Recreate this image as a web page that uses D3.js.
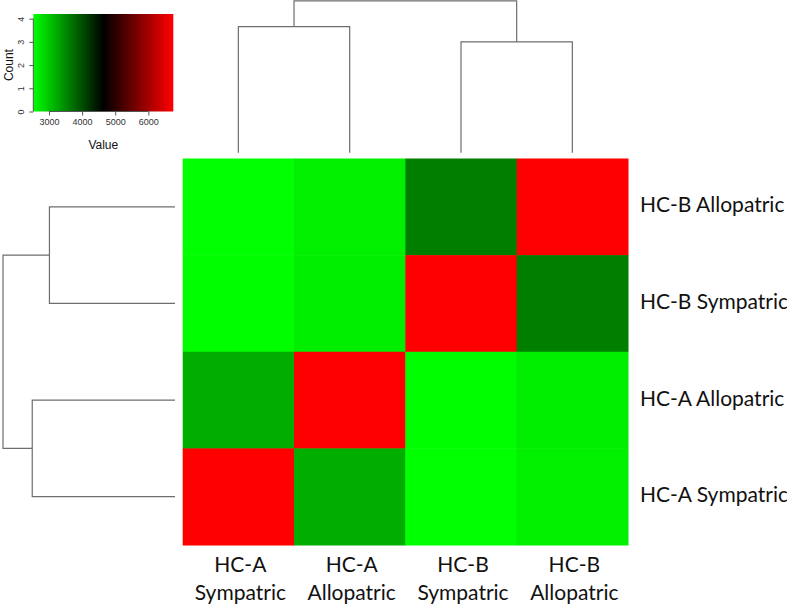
<!DOCTYPE html>
<html>
<head>
<meta charset="utf-8">
<script src="https://cdn.jsdelivr.net/npm/d3@7"></script>
<style>
  body { margin: 0; background: #fff; }
  svg { display: block; }
  .lbl { font-family: Lato, "Open Sans", sans-serif; font-size: 21px; fill: #111; }
  .key-tick { font-family: "Liberation Sans", Arial, sans-serif; font-size: 9px; fill: #333; }
  .key-title { font-family: "Liberation Sans", Arial, sans-serif; font-size: 12px; fill: #111; }
  .dendro { fill: none; stroke: #6e6e6e; stroke-width: 1.2; }
</style>
</head>
<body>
<svg id="chart" width="787" height="604"></svg>
<script>
// colunas (esq -> dir) e linhas (cima -> baixo)
const colLabels = ['HC-A Sympatric', 'HC-A Allopatric', 'HC-B Sympatric', 'HC-B Allopatric'];
const rowLabels = ['HC-B Allopatric', 'HC-B Sympatric', 'HC-A Allopatric', 'HC-A Sympatric'];

const values = [
  [2530, 2650, 3600, 6750],
  [2540, 2660, 6750, 3600],
  [3200, 6750, 2540, 2660],
  [6750, 3200, 2530, 2650],
];

// dendrograma: alturas das fusões (unidades arbitrárias)
const mergeA = 83;   // HC-A Sympatric + HC-A Allopatric
const mergeB = 73;   // HC-B Sympatric + HC-B Allopatric
const mergeRoot = 100;

// color key
const keyDomain = [2527, 4640, 6753];
const keyXTicks = [3000, 4000, 5000, 6000];
const keyYTicks = [0, 1, 2, 3, 4];

const svg = d3.select('#chart');

const x = d3.scaleBand().domain(colLabels).range([182.7, 628]);
const y = d3.scaleBand().domain(rowLabels).range([158.5, 545]);
const color = d3.scaleLinear().domain(keyDomain).range(['#00ff00', '#000000', '#ff0000']);

// ---------------------------------------------------------------- células
const cells = [];
values.forEach((row, i) => row.forEach((v, j) => cells.push({ r: rowLabels[i], c: colLabels[j], v })));
svg.append('g').selectAll('rect').data(cells).join('rect')
  .attr('x', (d) => x(d.c)).attr('y', (d) => y(d.r))
  .attr('width', x.bandwidth() + 0.5).attr('height', y.bandwidth() + 0.5)
  .attr('fill', (d) => color(d.v));

// rótulos das linhas (à direita)
svg.append('g').selectAll('text').data(rowLabels).join('text')
  .attr('class', 'lbl')
  .attr('x', 640).attr('y', (d) => y(d) + y.bandwidth() / 2 - 3)
  .attr('dominant-baseline', 'central')
  .text((d) => d);

// rótulos das colunas (duas linhas, embaixo)
const colG = svg.append('g').selectAll('text').data(colLabels).join('text')
  .attr('class', 'lbl').attr('text-anchor', 'middle');
colG.append('tspan')
  .attr('x', (d) => x(d) + x.bandwidth() / 2 + 2).attr('y', 572)
  .text((d) => d.split(' ')[0]);
colG.append('tspan')
  .attr('x', (d) => x(d) + x.bandwidth() / 2 + 2).attr('y', 600)
  .text((d) => d.split(' ')[1]);

// ------------------------------------------------------------ dendrogramas
// topo: folhas = centros das colunas
const hTop = d3.scaleLinear().domain([0, mergeRoot]).range([152.7, 0.8]);
const cx = (c) => x(c) + x.bandwidth() / 2;
const topG = svg.append('g');
function bracketTop(xa, xb, ya, yb, ym) {
  topG.append('path').attr('class', 'dendro')
    .attr('d', `M${xa},${ya}V${ym}H${xb}V${yb}`);
}
const aMid = (cx(colLabels[0]) + cx(colLabels[1])) / 2;
const bMid = (cx(colLabels[2]) + cx(colLabels[3])) / 2;
bracketTop(cx(colLabels[0]), cx(colLabels[1]), hTop(0), hTop(0), hTop(mergeA));
bracketTop(cx(colLabels[2]), cx(colLabels[3]), hTop(0), hTop(0), hTop(mergeB));
bracketTop(aMid, bMid, hTop(mergeA), hTop(mergeB), hTop(mergeRoot));

// esquerda: folhas = centros das linhas
const hLeft = d3.scaleLinear().domain([0, mergeRoot]).range([175, 3]);
const cy = (r) => y(r) + y.bandwidth() / 2;
const leftG = svg.append('g');
function bracketLeft(ya, yb, xa, xb, xm) {
  leftG.append('path').attr('class', 'dendro')
    .attr('d', `M${xa},${ya}H${xm}V${yb}H${xb}`);
}
const bRowMid = (cy(rowLabels[0]) + cy(rowLabels[1])) / 2;
const aRowMid = (cy(rowLabels[2]) + cy(rowLabels[3])) / 2;
bracketLeft(cy(rowLabels[0]), cy(rowLabels[1]), hLeft(0), hLeft(0), hLeft(mergeB));
bracketLeft(cy(rowLabels[2]), cy(rowLabels[3]), hLeft(0), hLeft(0), hLeft(mergeA));
bracketLeft(bRowMid, aRowMid, hLeft(mergeB), hLeft(mergeA), hLeft(mergeRoot));

// ---------------------------------------------------------------- color key
const kx = d3.scaleLinear().domain([keyDomain[0], keyDomain[2]]).range([33.3, 173.3]);
const ky = d3.scaleLinear().domain([0, 4.2]).range([111.5, 14]);
const key = svg.append('g');

// gradiente com paradas tiradas da própria escala de cor
const grad = svg.append('defs').append('linearGradient').attr('id', 'key-grad');
grad.selectAll('stop').data(keyDomain).join('stop')
  .attr('offset', (d) => (kx(d) - kx(keyDomain[0])) / (kx(keyDomain[2]) - kx(keyDomain[0])))
  .attr('stop-color', (d) => color(d));
key.append('rect')
  .attr('x', kx(keyDomain[0])).attr('y', ky(4.2))
  .attr('width', kx(keyDomain[2]) - kx(keyDomain[0])).attr('height', ky(0) - ky(4.2))
  .attr('fill', 'url(#key-grad)');

const xAxis = key.append('g').attr('transform', `translate(0,${ky(0)})`)
  .call(d3.axisBottom(kx).tickValues(keyXTicks).tickSize(4).tickPadding(3).tickFormat(d3.format('d')));
xAxis.select('.domain').attr('d', `M${kx(keyXTicks[0])},0H${kx(keyXTicks[3])}`).attr('stroke', '#555');
xAxis.selectAll('.tick line').attr('stroke', '#555');
xAxis.selectAll('text').attr('class', 'key-tick').attr('font-size', null).attr('font-family', null);

const yAxis = key.append('g').attr('transform', `translate(${kx(keyDomain[0])},0)`)
  .call(d3.axisLeft(ky).tickValues(keyYTicks).tickSize(4).tickPadding(3).tickFormat(d3.format('d')));
yAxis.select('.domain').attr('d', `M0,${ky(0)}V${ky(4)}`).attr('stroke', '#555');
yAxis.selectAll('.tick line').attr('stroke', '#555');
yAxis.selectAll('text').attr('class', 'key-tick').attr('font-size', null).attr('font-family', null)
  .attr('text-anchor', 'middle').attr('x', 0).attr('dy', 0)
  .attr('dominant-baseline', 'central')
  .attr('transform', 'translate(-12,0) rotate(-90)');

key.append('text').attr('class', 'key-title')
  .attr('text-anchor', 'middle')
  .attr('transform', `translate(9,${ky(2)}) rotate(-90)`)
  .attr('dominant-baseline', 'central')
  .text('Count');
key.append('text').attr('class', 'key-title')
  .attr('x', kx(4640)).attr('y', 149).attr('text-anchor', 'middle')
  .text('Value');
</script>
</body>
</html>
